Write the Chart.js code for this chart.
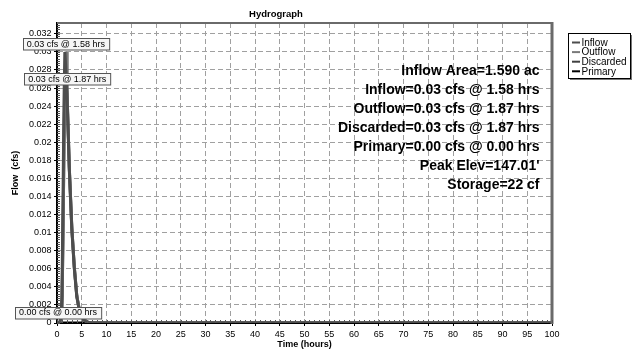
<!DOCTYPE html>
<html>
<head>
<meta charset="utf-8">
<script src="https://cdn.jsdelivr.net/npm/chart.js@4.4.1/dist/chart.umd.min.js"></script>
<style>
    html, body { margin: 0; padding: 0; background: #fff; }
</style>
</head>
<body>
<canvas id="hydroChart" width="637" height="352"></canvas>
<script>
// Hydrograph series: time (hours) / flow (cfs)
const inflowHours = [0, 0.5, 0.8, 1.0, 1.2, 1.4, 1.58, 1.75, 2.0, 2.5, 3.0, 3.5, 4.0, 4.5, 5.0, 5.5, 6.0, 7.0, 100];
const inflowCfs = [0, 0.0001, 0.0005, 0.003, 0.013, 0.024, 0.030, 0.0285, 0.0255, 0.0168, 0.0103, 0.006, 0.0029, 0.0014, 0.0007, 0.0003, 0.0001, 0, 0];
const outflowHours = [0, 0.5, 0.8, 1.0, 1.2, 1.4, 1.6, 1.87, 2.0, 2.5, 3.0, 3.5, 4.0, 4.5, 5.0, 5.5, 6.0, 7.0, 100];
const outflowCfs = [0, 0, 0.0003, 0.0015, 0.009, 0.019, 0.027, 0.030, 0.026, 0.017, 0.0105, 0.0062, 0.0030, 0.0015, 0.0008, 0.0004, 0.0001, 0, 0];
const discardedCfs = [0, 0, 0.0003, 0.0015, 0.009, 0.019, 0.027, 0.030, 0.026, 0.017, 0.0105, 0.0062, 0.0030, 0.0015, 0.0008, 0.0004, 0.0001, 0, 0];
const primaryHours = [0, 100];
const primaryCfs = [0, 0];

const seriesNames = ['Inflow', 'Outflow', 'Discarded', 'Primary'];

// axis ticks
const xTicks = [0, 5, 10, 15, 20, 25, 30, 35, 40, 45, 50, 55, 60, 65, 70, 75, 80, 85, 90, 95, 100];
const yTicks = [0, 0.002, 0.004, 0.006, 0.008, 0.01, 0.012, 0.014, 0.016, 0.018, 0.02, 0.022, 0.024, 0.026, 0.028, 0.03, 0.032];

// peak callouts
const peakHours = [1.58, 1.87, 0];
const peakCfs = [0.03, 0.03, 0];

// summary text
const summaryLines = [
    'Inflow Area=1.590 ac',
    'Inflow=0.03 cfs @ 1.58 hrs',
    'Outflow=0.03 cfs @ 1.87 hrs',
    'Discarded=0.03 cfs @ 1.87 hrs',
    'Primary=0.00 cfs @ 0.00 hrs',
    "Peak Elev=147.01'",
    'Storage=22 cf'
];

const FONT = '"Liberation Sans", Arial, sans-serif';
Chart.defaults.font.family = FONT;
Chart.defaults.color = '#000';

const lineColors = ['#4d4d4d', '#7a7a7a', '#404040', '#000000'];

const toPoints = (xs, ys) => xs.map((x, i) => ({ x: x, y: ys[i] }));

// Extra drawing: frame, minor ticks, title, callouts, summary, legend
const hydroDecor = {
    id: 'hydroDecor',
    afterDraw(chart) {
        const { ctx, chartArea: a, scales: { x, y } } = chart;
        ctx.save();

        // top and right frame
        ctx.strokeStyle = '#6a6a6a';
        ctx.lineWidth = 2;
        ctx.beginPath();
        ctx.moveTo(a.left, a.top);
        ctx.lineTo(a.right, a.top);
        ctx.stroke();
        ctx.lineWidth = 3;
        ctx.beginPath();
        ctx.moveTo(a.right, a.top - 1);
        ctx.lineTo(a.right, a.bottom + 1);
        ctx.stroke();

        // minor ticks
        ctx.strokeStyle = '#555';
        ctx.lineWidth = 1;
        ctx.beginPath();
        for (let i = 0; i <= 132; i++) {
            const py = Math.round(y.getPixelForValue(i * 0.00025)) + 0.5;
            ctx.moveTo(a.left, py);
            ctx.lineTo(a.left + 3, py);
        }
        for (let h = 0; h <= 100; h++) {
            const px = Math.round(x.getPixelForValue(h)) + 0.5;
            ctx.moveTo(px, a.bottom);
            ctx.lineTo(px, a.bottom - 3);
        }
        ctx.stroke();

        // chart title
        ctx.fillStyle = '#000';
        ctx.font = 'bold 9.5px ' + FONT;
        ctx.textAlign = 'center';
        ctx.textBaseline = 'middle';
        ctx.fillText('Hydrograph', 276, 14);

        // summary block
        ctx.font = 'bold 14px ' + FONT;
        ctx.textAlign = 'right';
        summaryLines.forEach((txt, i) => {
            ctx.fillText(txt, a.right - 12.5, a.top + 48.5 + i * 19);
        });

        // peak callout boxes
        const dy = [-7.5, 27.5, -10.5];
        ctx.font = '9px ' + FONT;
        ctx.textAlign = 'center';
        peakHours.forEach((h, i) => {
            const txt = peakCfs[i].toFixed(2) + ' cfs @ ' + h.toFixed(2) + ' hrs';
            const cx = x.getPixelForValue(h) + 1;
            const cy = y.getPixelForValue(peakCfs[i]) + dy[i];
            const w = ctx.measureText(txt).width + 8;
            const bx = Math.round(cx - w / 2) + 0.5;
            const by = Math.round(cy - 6) + 0.5;
            ctx.fillStyle = '#f6f6f6';
            ctx.fillRect(bx, by, w, 11.5);
            ctx.strokeStyle = '#555';
            ctx.strokeRect(bx, by, w, 11.5);
            ctx.fillStyle = '#000';
            ctx.fillText(txt, cx, cy + 0.5);
        });

        // legend
        const lx = 568, ly = 33, lw = 62, lh = 45;
        ctx.fillStyle = '#777';
        ctx.fillRect(lx + 2, ly + 2, lw, lh);
        ctx.fillStyle = '#fff';
        ctx.fillRect(lx, ly, lw, lh);
        ctx.strokeStyle = '#000';
        ctx.lineWidth = 1;
        ctx.strokeRect(lx + 0.5, ly + 0.5, lw, lh);
        ctx.font = '10px ' + FONT;
        ctx.textAlign = 'left';
        seriesNames.forEach((name, i) => {
            const ty = ly + 9.5 + i * 9.6;
            ctx.strokeStyle = lineColors[i];
            ctx.lineWidth = 2;
            ctx.beginPath();
            ctx.moveTo(lx + 4, ty);
            ctx.lineTo(lx + 12, ty);
            ctx.stroke();
            ctx.fillStyle = '#000';
            ctx.fillText(name, lx + 13.5, ty + 0.5);
        });

        ctx.restore();
    }
};

new Chart(document.getElementById('hydroChart'), {
    type: 'line',
    data: {
        datasets: [
            { label: seriesNames[0], data: toPoints(inflowHours, inflowCfs), borderColor: lineColors[0], borderWidth: 3 },
            { label: seriesNames[1], data: toPoints(outflowHours, outflowCfs), borderColor: lineColors[1], borderWidth: 3 },
            { label: seriesNames[2], data: toPoints(outflowHours, discardedCfs), borderColor: lineColors[2], borderWidth: 3 },
            { label: seriesNames[3], data: toPoints(primaryHours, primaryCfs), borderColor: lineColors[3], borderWidth: 3 }
        ]
    },
    options: {
        responsive: false,
        animation: false,
        elements: {
            point: { radius: 0 },
            line: { tension: 0, fill: false }
        },
        layout: { padding: { top: 23, right: 85, bottom: 0, left: 0 } },
        plugins: {
            legend: { display: false },
            title: { display: false },
            tooltip: { enabled: false }
        },
        scales: {
            x: {
                type: 'linear',
                min: 0,
                max: 100,
                afterFit: s => { s.height = 29; },
                afterBuildTicks: s => { s.ticks = xTicks.map(v => ({ value: v })); },
                ticks: { font: { size: 9 }, padding: 3, maxRotation: 0, autoSkip: false },
                grid: { color: '#a0a0a0', lineWidth: 1, tickLength: 3, tickColor: '#000', tickBorderDash: [] },
                border: { color: '#000', width: 2, dash: [5, 3] },
                title: { display: true, text: 'Time (hours)', font: { size: 9, weight: 'bold' }, padding: { top: 0, bottom: 2 } }
            },
            y: {
                type: 'linear',
                min: 0,
                max: 0.0332,
                afterFit: s => { s.width = 57; },
                afterBuildTicks: s => { s.ticks = yTicks.map(v => ({ value: v })); },
                ticks: {
                    font: { size: 9 },
                    padding: 2.5,
                    autoSkip: false,
                    callback: v => parseFloat(v.toFixed(3)).toString()
                },
                grid: { color: '#a0a0a0', lineWidth: 1, tickLength: 3, tickColor: '#000', tickBorderDash: [] },
                border: { color: '#000', width: 2, dash: [5, 3] },
                title: { display: true, text: 'Flow  (cfs)', font: { size: 9, weight: 'bold' }, padding: { top: 10.5, bottom: 0 } }
            }
        }
    },
    plugins: [hydroDecor]
});
</script>
</body>
</html>
